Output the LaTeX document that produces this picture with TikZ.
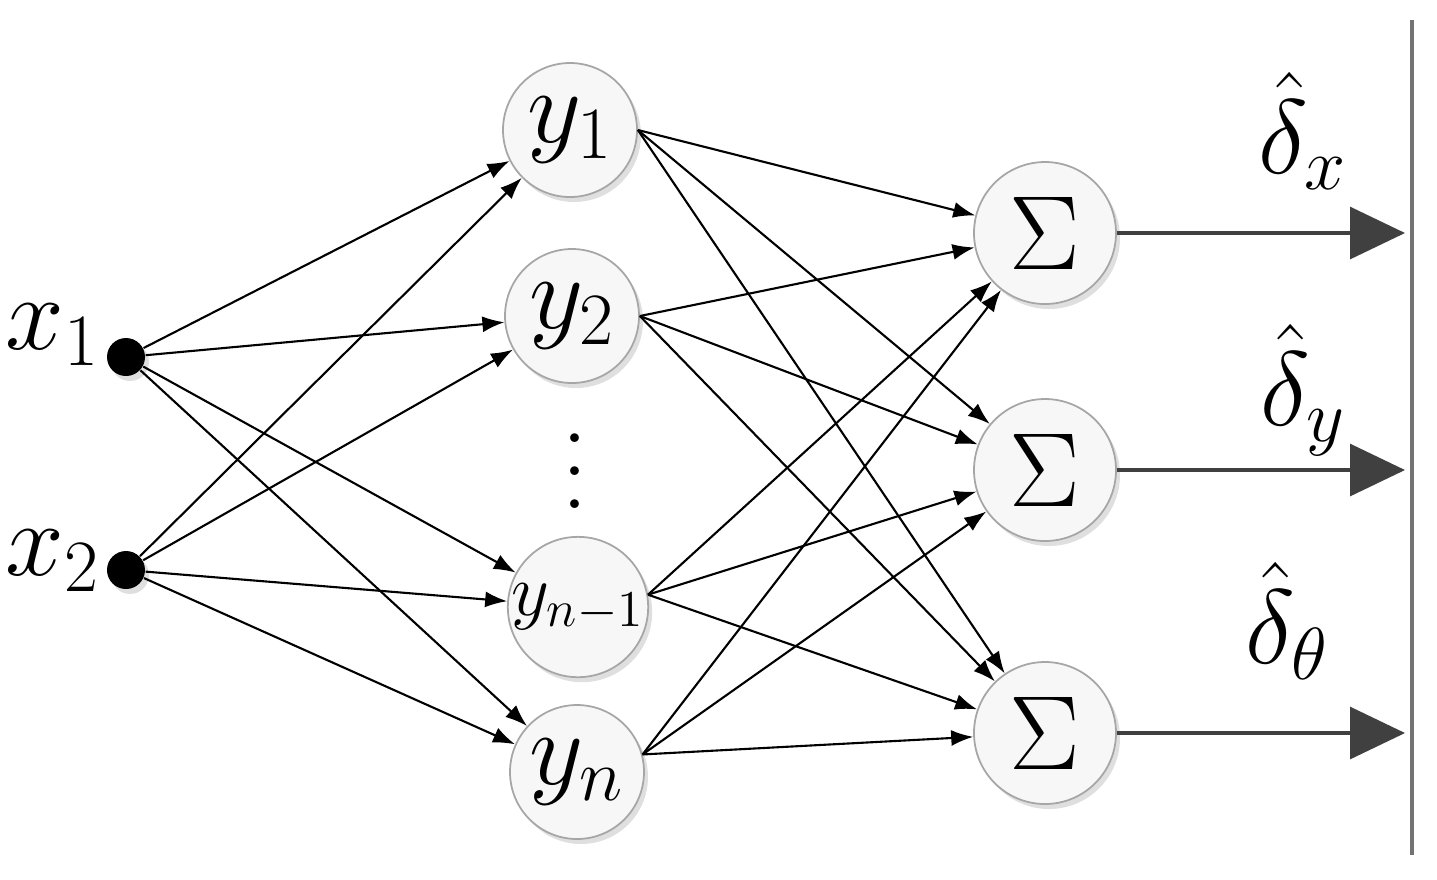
\RequirePackage{fix-cm}
\documentclass[tikz,border=0pt]{standalone}
\usetikzlibrary{arrows.meta,shadows,positioning}

\begin{document}
\begin{tikzpicture}[
		ombra/.style={drop shadow={shadow xshift=0.04cm, shadow yshift=-0.05cm, opacity=0.25}},
		neurone/.style={circle, draw=gray!70, line width=0.5pt, fill=gray!6, minimum size=1.34cm, inner sep=0pt, ombra, font=\fontsize{30}{36}\selectfont},
		somma/.style={neurone, minimum size=1.42cm},
		ingresso/.style={circle, fill=black, minimum size=0.38cm, inner sep=0pt, ombra},
		etichetta/.style={font=\fontsize{30}{36}\selectfont, inner sep=0pt},
		freccia/.style={line width=0.6pt, -{Latex[length=0.22cm, width=0.16cm]}},
		uscita/.style={color=black!75, line width=0.9pt, -{Triangle[length=0.55cm, width=0.52cm]}}
	]
		\useasboundingbox (0,0) rectangle (14.37,-8.79);
		
		% ingressi
		\node[ingresso] (in1) at (1.26,-3.57) {};
		\node[ingresso] (in2) at (1.26,-5.70) {};
		\node[etichetta] (lx1) at (0.53,-3.35) {$x_1$};
		\node[etichetta] (lx2) at (0.53,-5.61) {$x_2$};
		
		% strato nascosto
		\node[neurone] (h1) at (5.70,-1.30) {$y_1$};
		\node[neurone] (h2) at (5.72,-3.16) {$y_2$};
		\node[neurone, font=\fontsize{21}{25}\selectfont] (h3) at (5.78,-6.07) {$y_{n-1}$};
		\node[neurone] (h4) at (5.77,-7.72) {$y_n$};
		\node[scale=2.35, anchor=south] (punti) at (5.75,-5.38) {$\vdots$};
		
		% nodi somma
		\node[somma] (s1) at (10.45,-2.33) {$\Sigma$};
		\node[somma] (s2) at (10.45,-4.70) {$\Sigma$};
		\node[somma] (s3) at (10.45,-7.33) {$\Sigma$};
		
		% connessioni ingresso - strato nascosto
		\draw[freccia] (in1) -- (h1);
		\draw[freccia] (in1) -- (h2);
		\draw[freccia] (in1) -- (h3);
		\draw[freccia] (in1) -- (h4);
		\draw[freccia] (in2) -- (h1);
		\draw[freccia] (in2) -- (h2);
		\draw[freccia] (in2) -- (h3);
		\draw[freccia] (in2) -- (h4);
		
		% connessioni strato nascosto - somma
		\draw[freccia] (h1.east) -- (s1);
		\draw[freccia] (h1.east) -- (s2);
		\draw[freccia] (h1.east) -- (s3);
		\draw[freccia] (h2.east) -- (s1);
		\draw[freccia] (h2.east) -- (s2);
		\draw[freccia] (h2.east) -- (s3);
		\draw[freccia] (h3.10) -- (s1);
		\draw[freccia] (h3.10) -- (s2);
		\draw[freccia] (h3.10) -- (s3);
		\draw[freccia] (h4.15) -- (s1);
		\draw[freccia] (h4.15) -- (s2);
		\draw[freccia] (h4.15) -- (s3);
		
		% uscite
		\coordinate (o1) at (14.05,-2.33);
		\coordinate (o2) at (14.05,-4.70);
		\coordinate (o3) at (14.05,-7.33);
		\draw[uscita] (s1) -- (o1);
		\draw[uscita] (s2) -- (o2);
		\draw[uscita] (s3) -- (o3);
		\node[etichetta] (dx) at (13.03,-1.31) {$\hat{\delta}_x$};
		\node[etichetta] (dy) at (13.03,-3.90) {$\hat{\delta}_y$};
		\node[etichetta] (dt) at (12.87,-6.21) {$\hat{\delta}_\theta$};
		
		% bordo destro
		\draw[color=black!55, line width=0.9pt] (14.12,-0.20) -- (14.12,-8.55);
		
	\end{tikzpicture}
\end{document}
